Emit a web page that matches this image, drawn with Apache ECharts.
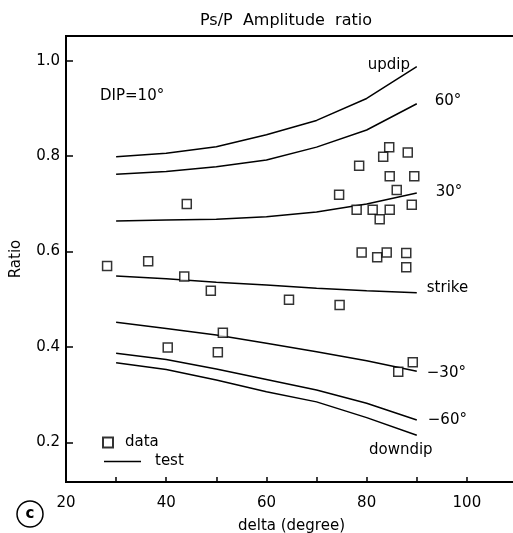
<!DOCTYPE html>
<html>
<head>
<meta charset="utf-8">
<script src="https://cdn.jsdelivr.net/npm/echarts@6/dist/echarts.min.js"></script>
<style>
html,body{margin:0;padding:0;background:#fff;}
#chart{width:513px;height:533px;}
</style>
</head>
<body>
<div id="chart"></div>
<script>
// ---- data ----
var deltaGrid = [30, 40, 50, 60, 70, 80, 90];
var curveNames = ['updip', '60°', '30°', 'strike', '−30°', '−60°', 'downdip'];
var updip   = [0.799, 0.806, 0.820, 0.845, 0.875, 0.921, 0.988];
var dip60   = [0.762, 0.768, 0.778, 0.792, 0.819, 0.855, 0.910];
var dip30   = [0.664, 0.666, 0.668, 0.673, 0.683, 0.700, 0.723];
var strike  = [0.549, 0.543, 0.536, 0.530, 0.523, 0.518, 0.514];
var dipM30  = [0.452, 0.439, 0.425, 0.408, 0.390, 0.371, 0.349];
var dipM60  = [0.387, 0.374, 0.354, 0.332, 0.310, 0.282, 0.247];
var downdip = [0.367, 0.353, 0.331, 0.306, 0.285, 0.252, 0.215];

var obsDelta = [44.1, 28.2, 36.4, 43.6, 48.9, 64.5, 74.6, 51.3, 40.3, 50.3, 89.2, 86.3,
                84.5, 83.3, 88.2, 78.5, 84.6, 89.5, 86.0, 74.5, 78.0, 81.2, 84.6, 89.0,
                82.6, 79.0, 82.1, 84.0, 87.9, 87.9];
var obsRatio = [0.700, 0.570, 0.580, 0.548, 0.518, 0.499, 0.488, 0.430, 0.399, 0.389, 0.368, 0.348,
                0.819, 0.799, 0.808, 0.780, 0.758, 0.758, 0.729, 0.719, 0.688, 0.688, 0.688, 0.698,
                0.668, 0.598, 0.588, 0.598, 0.597, 0.567];

var xTickValues = [30, 40, 50, 60, 70, 80, 90, 100];
var xLabelValues = [20, 40, 60, 80, 100];
var yTickValues = [0.2, 0.4, 0.6, 0.8, 1.0];

// ---- build ----
var FONT = 'DejaVu Sans';
var curves = [updip, dip60, dip30, strike, dipM30, dipM60, downdip];
// label placement per curve (offset from line end)
var labelCfg = [
  {align: 'center', offset: [-33, -1]},
  {align: 'left', offset: [13, -3]},
  {align: 'left', offset: [14, -1]},
  {align: 'left', offset: [5, -5]},
  {align: 'left', offset: [5, 2]},
  {align: 'left', offset: [6, 0]},
  {align: 'center', offset: [-21, 15]}
];

var series = curves.map(function (vals, i) {
  return {
    name: 'test',
    type: 'line',
    data: deltaGrid.map(function (d, j) { return [d, vals[j]]; }),
    symbol: 'none',
    lineStyle: {color: '#000', width: 1.5},
    itemStyle: {color: '#000'},
    z: 2,
    endLabel: {
      show: true,
      formatter: curveNames[i],
      color: '#000',
      fontFamily: FONT,
      fontSize: 15,
      align: labelCfg[i].align,
      verticalAlign: 'middle',
      distance: 5,
      offset: labelCfg[i].offset
    },
    emphasis: {disabled: true}
  };
});
series.push({
  name: 'data',
  type: 'scatter',
  data: obsDelta.map(function (d, j) { return [d, obsRatio[j]]; }),
  symbol: 'rect',
  symbolSize: 9,
  itemStyle: {color: '#fff', borderColor: '#000', borderWidth: 1.5},
  z: 5,
  emphasis: {disabled: true}
});

var chart = echarts.init(document.getElementById('chart'), null, {renderer: 'canvas'});
chart.setOption({
  backgroundColor: '#fff',
  animation: false,
  textStyle: {fontFamily: FONT, color: '#000'},
  title: {
    text: 'Ps/P  Amplitude  ratio',
    left: 200, top: 13, padding: 0,
    textStyle: {fontFamily: FONT, fontSize: 16, fontWeight: 'normal', color: '#000'}
  },
  legend: [
    {
      data: ['data'], left: 102, top: 435, padding: 0,
      itemWidth: 10, itemHeight: 10, icon: 'rect',
      textStyle: {fontFamily: FONT, fontSize: 15, color: '#000', padding: [0, 0, 0, 7]},
      selectedMode: false
    },
    {
      data: [{name: 'test', icon: 'rect'}], left: 104, top: 454, padding: 0,
      itemWidth: 37, itemHeight: 1.5,
      textStyle: {fontFamily: FONT, fontSize: 15, color: '#000', padding: [0, 0, 0, 9]},
      selectedMode: false
    }
  ],
  grid: {
    left: 66, top: 36, width: 451, height: 446,
    outerBoundsMode: 'none', containLabel: false,
    show: true, borderColor: '#000', borderWidth: 2, backgroundColor: 'transparent'
  },
  xAxis: {
    type: 'value', min: 20, max: 110, interval: 10,
    name: 'delta (degree)', nameLocation: 'middle', nameGap: 37,
    nameTextStyle: {fontFamily: FONT, fontSize: 15, color: '#000'},
    axisLine: {lineStyle: {color: '#000', width: 2}},
    axisTick: {inside: true, length: 5, lineStyle: {color: '#000', width: 1.5}, customValues: xTickValues},
    axisLabel: {customValues: xLabelValues, margin: 14, fontFamily: FONT, fontSize: 15, color: '#000'},
    splitLine: {show: false}
  },
  yAxis: {
    type: 'value', min: 0.117, max: 1.052,
    name: 'Ratio', nameLocation: 'middle', nameGap: 42, nameRotate: 90,
    nameTextStyle: {fontFamily: FONT, fontSize: 15, color: '#000'},
    axisLine: {lineStyle: {color: '#000', width: 2}},
    axisTick: {inside: true, length: 7, lineStyle: {color: '#000', width: 1.5}, customValues: yTickValues},
    axisLabel: {customValues: yTickValues, margin: 6, fontFamily: FONT, fontSize: 15, color: '#000',
      formatter: function (v) { return v.toFixed(1); }},
    splitLine: {show: false}
  },
  graphic: [
    {type: 'text', left: 100, top: 89, style: {text: 'DIP=10°', font: '15px "DejaVu Sans"', fill: '#000'}},
    {type: 'circle', shape: {cx: 30, cy: 514, r: 13}, style: {fill: 'none', stroke: '#000', lineWidth: 1.5}},
    {type: 'text', x: 30, y: 514, style: {text: 'c', font: 'bold 15px "DejaVu Sans"', fill: '#000', align: 'center', verticalAlign: 'middle'}}
  ],
  series: series
});
</script>
</body>
</html>
